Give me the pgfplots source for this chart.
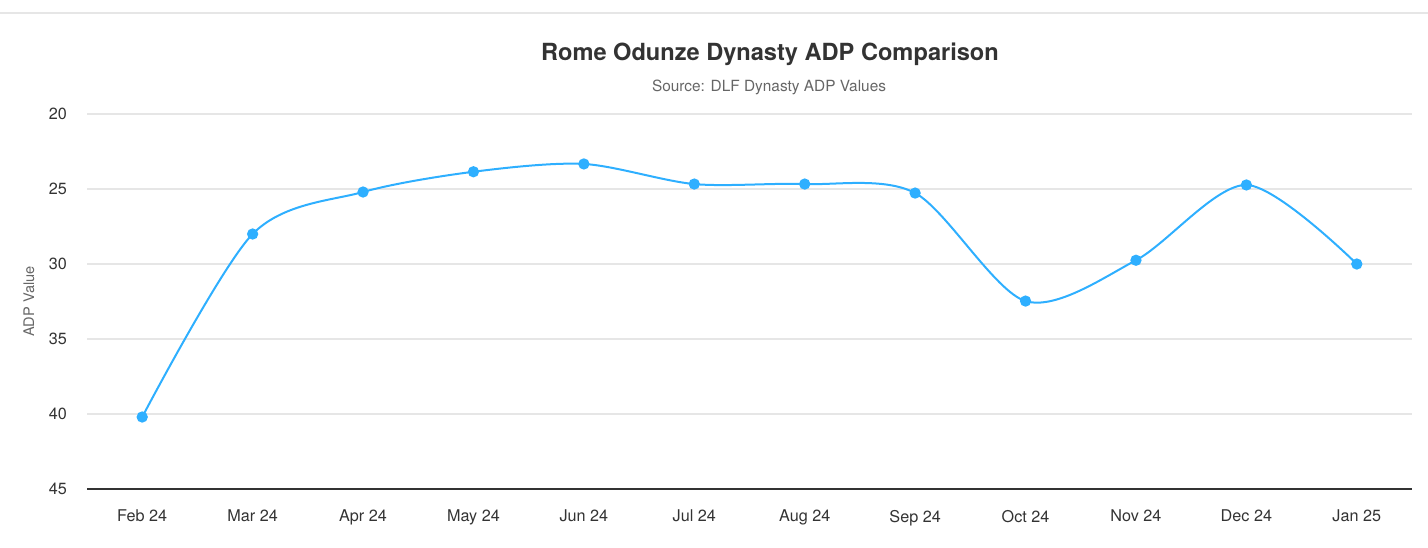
\documentclass[border=0pt]{standalone}
\usepackage{pgfplots}
\pgfplotsset{compat=1.18}
\usepackage{fontspec}
\setmainfont{TeX Gyre Heros}
\definecolor{lineblue}{HTML}{2EAFFF}
\definecolor{gridgray}{HTML}{E6E6E6}
\definecolor{txtdark}{HTML}{333333}
\definecolor{txtgray}{HTML}{666666}
\begin{document}
\begin{tikzpicture}[x=0.5pt,y=-0.5pt]
\useasboundingbox (0,0) rectangle (1428,547);
\draw[gridgray, line width=0.8pt] (0,13) -- (1428,13);
\node[font=\bfseries\fontsize{11.8}{14}\selectfont, text=txtdark] at (770,54) {Rome Odunze Dynasty ADP Comparison};
\node[font=\fontsize{7.7}{10}\selectfont, text=txtgray] at (769,87) {Source: DLF Dynasty ADP Values};
\begin{axis}[
  at={(43.5pt,-244.5pt)}, anchor=south west,
  scale only axis, width=662.5pt, height=187.5pt,
  xmin=-0.5, xmax=11.5, ymin=20, ymax=45,
  y dir=reverse,
  xtick={0,...,11},
  xticklabels={Feb 24,Mar 24,Apr 24,May 24,Jun 24,Jul 24,Aug 24,Sep 24,Oct 24,Nov 24,Dec 24,Jan 25},
  ytick={20,25,30,35,40,45},
  ymajorgrids, grid style={gridgray, line width=0.6pt},
  axis line style={draw=none},
  major tick length=0pt,
  tick label style={font=\fontsize{8.1}{10}\selectfont, text=txtdark},
  /pgf/number format/assume math mode=true,
  xticklabel style={yshift=-7pt},
  yticklabel style={xshift=-6.5pt},
  ylabel={ADP Value},
  ylabel style={font=\fontsize{7.3}{9}\selectfont, text=txtgray, at={(axis description cs:0,0.5)}, anchor=center, yshift=29pt},
  clip=false,
]
\draw[txtdark, line width=0.7pt] (axis cs:-0.5,45) -- (axis cs:11.5,45);
\addplot[lineblue, line width=1pt, smooth, tension=0.5, mark=*, mark size=2.3pt, mark options={fill=lineblue, draw=lineblue}]
coordinates {(0,40.2) (1,28.0) (2,25.2) (3,23.85) (4,23.33) (5,24.67) (6,24.67) (7,25.27) (8,32.47) (9,29.75) (10,24.73) (11,30.0)};
\end{axis}
\end{tikzpicture}
\end{document}
